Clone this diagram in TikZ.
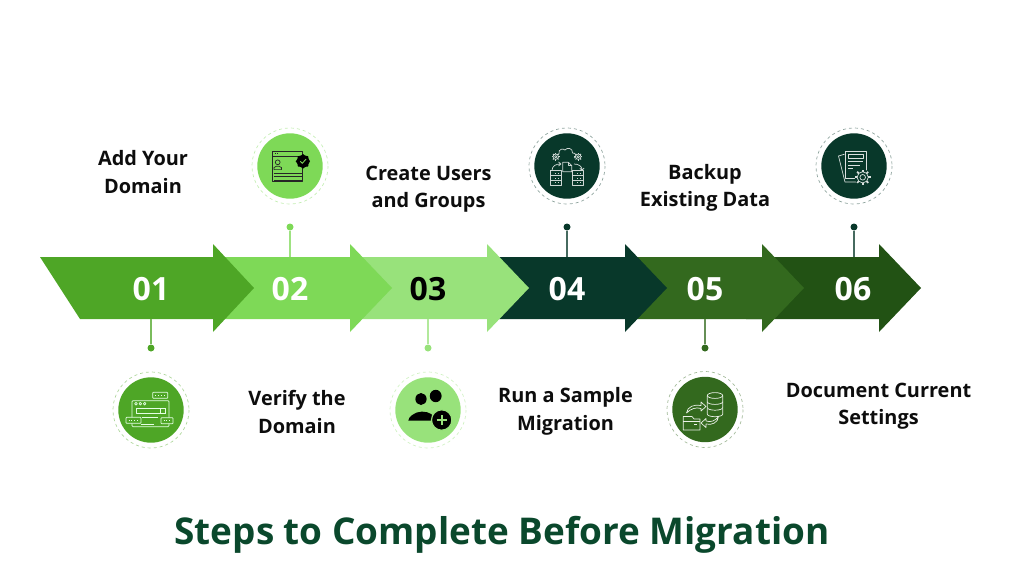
\documentclass[tikz,border=0pt]{standalone}
\usepackage{fontspec}
\setmainfont{Open Sans}
\usetikzlibrary{positioning,calc}
\definecolor{stepcol1}{HTML}{4EA626}
\definecolor{stepcol2}{HTML}{7ED957}
\definecolor{stepcol3}{HTML}{98E27B}
\definecolor{stepcol4}{HTML}{08382A}
\definecolor{stepcol5}{HTML}{33691E}
\definecolor{stepcol6}{HTML}{225214}
\definecolor{titlecol}{HTML}{0A482C}
\tikzset{
  badge/.style={circle, minimum size=65.4pt, inner sep=0pt},
  stepdot/.style={circle, minimum size=7pt, inner sep=0pt},
  stepnum/.style={font=\fontsize{32}{34}\bfseries\selectfont},
  steptext/.style={align=center, text=black!95, font=\fontsize{19.9}{27.4}\bfseries\selectfont},
  iconline/.style={line width=0.7pt, line join=round},
  pics/gearicon/.style={code={
    \draw[iconline, fill=#1] (0,0) circle (2.7);
    \draw[iconline] (0,0) circle (1.2);
    \foreach \a in {0,45,...,315} { \draw[line width=1pt] (\a:2.6) -- (\a:3.9); };
  }},
  pics/bigear/.style={code={
    \fill[#1] (0,0) circle (8);
    \draw[iconline] (0,0) circle (5.6);
    \draw[iconline] (0,0) circle (2.8);
    \foreach \a in {0,45,...,315} { \draw[line width=1.7pt] (\a:5.4) -- (\a:7.8); };
  }},
  pics/iconweb/.style={code={
    \draw[iconline, rounded corners=1pt] (-19,16.7) rectangle (18,-9.3);
    \foreach \x in {-15,-10.7,-6.3} { \draw[iconline] (\x,-6.3) circle (1.3); };
    \draw[iconline] (-15,-2) rectangle (14,3.8);
    \draw[iconline] (9,-2) rectangle (14,3.8);
    \draw[iconline] (-8.7,7.3) -- (7.3,7.3) (-10.3,14) -- (3,14);
    \foreach \x/\y/\w in {1.7/-17.7/15, -25/7.3/15, 10/7.7/12} {
      \draw[iconline, fill=stepcol1, rounded corners=0.7pt] (\x,\y) rectangle ++(\w,6);
      \draw[dotted, line width=0.9pt] (\x+2.5,\y+3) -- ++(\w-5,0);
    };
  }},
  pics/iconcard/.style={code={
    \draw[iconline] (-17.7,-15) rectangle (12.3,15.7);
    \draw[iconline] (-17.7,-10) -- (12.3,-10);
    \draw[dotted, line width=0.8pt] (-15.5,-12.5) -- (-10,-12.5);
    \draw[iconline] (-12.3,-3.7) circle (2.4);
    \draw[iconline] (-16,3.6) -- (-16,1.6) -- (-13.6,0.2) -- (-11,0.2) -- (-8.5,1.6) -- (-8.5,3.6) -- cycle;
    \foreach \y in {7.3,10.7,14} { \draw[iconline] (-16.5,\y) -- (11.7,\y); };
    \fill (13,-4.7) +(0:7) \foreach \a in {15,30,...,345} { -- +(\a:{6.6+0.7*cos(8*\a)}) } -- cycle;
    \draw[stepcol2, line width=0.9pt] (10.3,-4.8) -- (12.3,-2.8) -- (16,-6.8);
  }},
  pics/iconusers/.style={code={
    \fill (-7,-11) ellipse (5.6 and 6);
    \fill (7.7,-14) ellipse (5.9 and 6.2);
    \fill (-19.7,10.5) .. controls (-19.7,7) and (-13,1.6) .. (-6,1.6) .. controls (1,1.6) and (7,5) .. (7,10.5) -- cycle;
    \fill[draw=stepcol3, line width=1.2pt] (13.7,10) circle (10.2);
    \draw[stepcol3, line width=1.8pt] (13.7,5) -- (13.7,15) (8.7,10) -- (18.7,10);
  }},
  pics/iconcloud/.style={code={
    \draw[iconline] (-8,-12) .. controls (-9,-17) and (-4,-18) .. (-2,-16)
      .. controls (0,-19) and (6,-18) .. (5.5,-13) .. controls (9,-14) and (10,-8) .. (7,-8);
    \draw[iconline] (-8,-12) .. controls (-11,-12) and (-11,-8) .. (-8,-8);
    \pic at (-11.3,-9.3) {gearicon=stepcol4};
    \pic at (11.3,-9.3) {gearicon=stepcol4};
    \draw[iconline, fill=stepcol4] (-4.3,-3.7) -- (1.3,-3.7) -- (4.7,-0.5) -- (4.7,5.7) -- (-4.3,5.7) -- cycle;
    \draw[iconline] (1.3,-3.7) -- (1.3,-0.5) -- (4.7,-0.5);
    \draw[iconline] (-15,4.5) .. controls (-15,0) and (-11,-2) .. (-7,-2) (-8.5,-4) -- (-6,-2) -- (-8.5,0);
    \draw[iconline] (7,-2) .. controls (11,-2) and (15,0) .. (15,3.5) (12.8,2) -- (15,4.5) -- (17,2);
    \foreach \x in {-16.3,5.7} {
      \foreach \y in {4.7,9.5,14.3} {
        \draw[iconline] (\x,\y) rectangle ++(10.8,4.8);
        \draw[dotted, line width=0.8pt] (\x+4.5,\y+2.4) -- ++(5,0);
      };
    };
  }},
  pics/iconbackup/.style={code={
    \foreach \y in {-7.7,-1.2} {
      \draw[iconline] (2.3,\y) -- (2.3,\y+5.8) arc[start angle=180, end angle=360, x radius=7.7, y radius=-2.6] -- (17.7,\y);
    };
    \draw[iconline] (10,-14) ellipse (7.7 and 2.9);
    \draw[iconline] (2.3,-14) -- (2.3,-7.7) arc[start angle=180, end angle=360, x radius=7.7, y radius=-2.6] -- (17.7,-14);
    \draw[iconline] (-21.7,20.5) -- (-21.7,7) -- (-13,7) -- (-11,9.5) -- (-5,9.5) -- (-5,20.5) -- cycle;
    \draw[iconline] (-21.7,11.5) -- (-5,11.5);
    \draw[iconline] (-11,15) -- (-8,15);
    \draw[iconline] (-18.5,3.5) .. controls (-18,-3) and (-10,-5.5) .. (-4,-4) -- (-4,-7.5) -- (1,-3) -- (-4,1.5) -- (-4,-1)
      .. controls (-9,-2.5) and (-14,-1) .. (-18.5,3.5);
    \draw[iconline] (13.5,7) .. controls (13,13) and (7,16) .. (1,14.5) -- (1,18) -- (-4,13.5) -- (1,9) -- (1,11.5)
      .. controls (6,13) and (10,11.5) .. (13.5,7);
  }},
  pics/icondoc/.style={code={
    \draw[iconline] (-9.5,-11.8) -- (-15.5,-10) -- (-9,16) -- (3.5,16);
    \draw[iconline] (-9,-14.3) rectangle (12.7,12.3);
    \draw[iconline] (-5.7,-12) rectangle (9.3,-7.7);
    \draw[iconline] (-5.7,-4.3) -- (9.3,-4.3) (-5.7,-1) -- (5.7,-1) (-5.7,2.3) -- (-0.7,2.3);
    \pic at (8.7,11.3) {bigear=stepcol4};
  }},
}
\begin{document}
\begin{tikzpicture}[x=1pt, y=-1pt]
  \useasboundingbox (0,0) rectangle (1024,576);
  % arrows, last one first
  \foreach \n/\b in {6/879, 5/762, 4/625, 3/487, 2/350} {
    \fill[stepcol\n] (\b-133,257) -- (\b,257) -- (\b,244) -- (\b+42,288) -- (\b,332) -- (\b,319) -- (\b-133,319) -- cycle;
  };
  \fill[stepcol1] (40,257) -- (213,257) -- (213,244) -- (254,288) -- (213,332) -- (213,319) -- (80,319) -- cycle;
  % numbers
  \foreach \n/\x/\c in {1/151/white, 2/290/white, 3/428/black, 4/567/white, 5/705/white, 6/853/white} {
    \node[stepnum, text=\c] (num\n) at (\x,289) {0\n};
  };
  % badges, dots and stems
  \foreach \n/\x/\cy/\dy/\ey/\r in {1/151/410/348/319/stepcol1, 2/290/166/227/257/stepcol2, 3/428/410/348/319/stepcol3,
      4/567/166/227/257/stepcol4, 5/705/409.5/348/319/stepcol5, 6/854/166/227/257/stepcol4} {
    \node[badge, fill=\r] (badge\n) at (\x,\cy) {};
    \draw[\r!45, line width=0.7pt, dash pattern=on 3pt off 3pt] (\x,\cy) circle (38);
    \node[stepdot, fill=\r] (dot\n) at (\x,\dy) {};
    \coordinate (edge\n) at (\x,\ey);
    \draw[\r!75, line width=1.2pt] (dot\n) -- (edge\n);
  };
  % icons
  \pic[draw=green!10!white] at (badge1) {iconweb};
  \pic[draw=black!85] at (badge2) {iconcard};
  \pic[black] at (badge3) {iconusers};
  \pic[draw=white!80!stepcol4] at (badge4) {iconcloud};
  \pic[draw=white!90!stepcol5] at (badge5) {iconbackup};
  \pic[draw=white!85!stepcol4] at (badge6) {icondoc};
  % labels
  \node[steptext] (text1) at (143,172) {Add Your\\Domain};
  \node[steptext] (text2) at (297,412) {Verify the\\Domain};
  \node[steptext] (text3) at (428.5,189) {Create Users\\and Groups};
  \node[steptext] (text4) at (565.5,411.5) {Run a Sample\\Migration};
  \node[steptext] (text5) at (705,188) {Backup\\Existing Data};
  \node[steptext] (text6) at (878.5,406) {Document Current\\Settings};
  \node[text=titlecol, font=\fontsize{36.9}{40}\bfseries\selectfont] (title) at (502,535) {Steps to Complete Before Migration};
\end{tikzpicture}
\end{document}
